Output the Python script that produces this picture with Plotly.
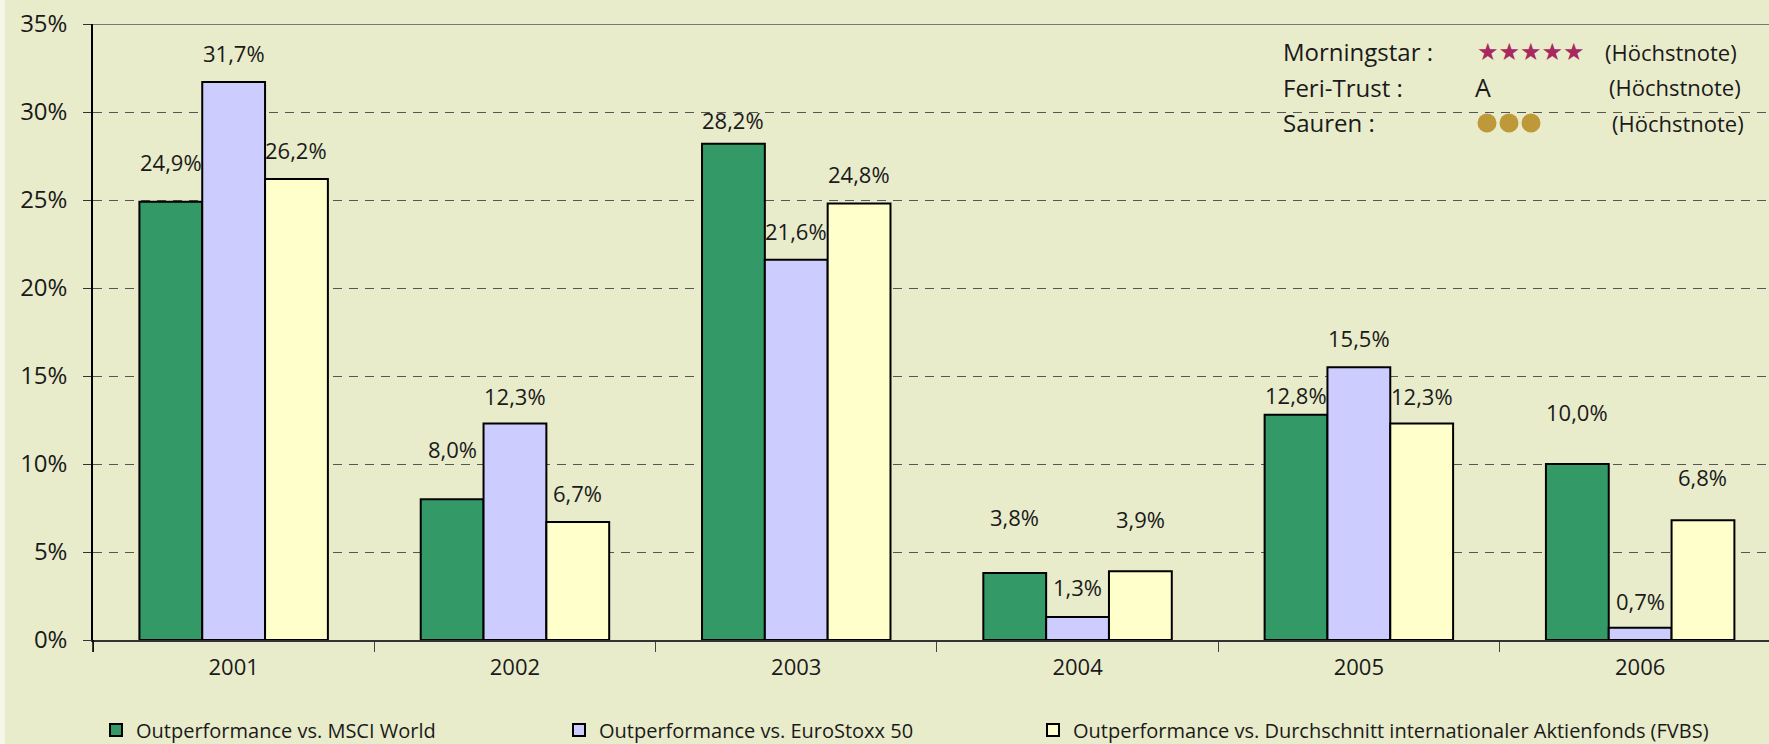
import plotly.graph_objects as go

# ---- data ----
years = ["2001", "2002", "2003", "2004", "2005", "2006"]
msci_world = [24.9, 8.0, 28.2, 3.8, 12.8, 10.0]
eurostoxx50 = [31.7, 12.3, 21.6, 1.3, 15.5, 0.7]
fvbs_avg = [26.2, 6.7, 24.8, 3.9, 12.3, 6.8]
series_names = [
    "Outperformance vs. MSCI World",
    "Outperformance vs. EuroStoxx 50",
    "Outperformance vs. Durchschnitt internationaler Aktienfonds (FVBS)",
]
y_ticks = [0, 5, 10, 15, 20, 25, 30, 35]
rating_agencies = ["Morningstar :", "Feri-Trust :", "Sauren :"]
rating_note = "(Höchstnote)"

# ---- styling ----
W, H = 1769, 744
ML, MR, MT, MB = 93, 0, 24, 104
BG = "#E9ECCB"
colors = ["#339966", "#CCCCFF", "#FFFFCC"]
FONT = "Open Sans, Liberation Sans, sans-serif"
TXT = "#1a1a1a"
XRANGE = [-0.5, 5.458]
BARGAP = 0.33
# label lift above bar top (px), manual nudges as in the original
label_lift = [
    [40, 50, 24, 56, 20, 52],
    [29, 28, 29, 30, 29, 27],
    [29, 29, 30, 52, 28, 43],
]
legend_x_px = [96, 559, 1033]

plot_w = W - ML - MR
plot_h = H - MT - MB
cat_px = plot_w / (XRANGE[1] - XRANGE[0])
bar_px = cat_px * (1 - BARGAP) / 3


def px2paper(xp, yp):
    return (xp - ML) / plot_w, (H - MB - yp) / plot_h


fig = go.Figure()
all_series = [msci_world, eurostoxx50, fvbs_avg]
legend_ids = ["legend", "legend2", "legend3"]
for i, (vals, name) in enumerate(zip(all_series, series_names)):
    fig.add_trace(go.Bar(
        x=years, y=vals, name=name, legend=legend_ids[i],
        marker=dict(color=colors[i], line=dict(color="black", width=2)),
        hoverinfo="x+y",
    ))

annotations = []
for i, vals in enumerate(all_series):
    for j, v in enumerate(vals):
        annotations.append(dict(
            x=j, y=v, xref="x", yref="y",
            text=f"{v:.1f}".replace(".", ",") + "%",
            showarrow=False, xanchor="center", yanchor="middle",
            xshift=(i - 1) * bar_px, yshift=label_lift[i][j],
            font=dict(family=FONT, size=22, color=TXT),
        ))

# rating box
rows_y = [52, 87, 123]
for k, label in enumerate(rating_agencies):
    x, y = px2paper(1281, rows_y[k])
    annotations.append(dict(x=x, y=y, xref="paper", yref="paper", text=label,
                            showarrow=False, xanchor="left", yanchor="middle",
                            font=dict(family=FONT, size=24, color=TXT)))
note_x = [1603, 1607, 1610]
for k in range(3):
    x, y = px2paper(note_x[k], rows_y[k])
    annotations.append(dict(x=x, y=y, xref="paper", yref="paper", text=rating_note,
                            showarrow=False, xanchor="left", yanchor="middle",
                            font=dict(family=FONT, size=22, color=TXT)))
x, y = px2paper(1475, rows_y[0])
annotations.append(dict(x=x, y=y, xref="paper", yref="paper", text="★★★★★",
                        showarrow=False, xanchor="left", yanchor="middle",
                        font=dict(family="DejaVu Sans", size=24, color="#A8295F")))
x, y = px2paper(1473, rows_y[1])
annotations.append(dict(x=x, y=y, xref="paper", yref="paper", text="A",
                        showarrow=False, xanchor="left", yanchor="middle",
                        font=dict(family=FONT, size=25, color=TXT)))

shapes = []
# Sauren circles
for c in range(3):
    cx = 1487 + c * 22
    x0, y0 = px2paper(cx - 9.5, rows_y[2] + 9.5)
    x1, y1 = px2paper(cx + 9.5, rows_y[2] - 9.5)
    shapes.append(dict(type="circle", xref="paper", yref="paper",
                       x0=x0, y0=y0, x1=x1, y1=y1,
                       fillcolor="#BE993A", line=dict(width=0)))
# solid top line at max of y axis
shapes.append(dict(type="line", xref="paper", yref="y", x0=0, x1=1,
                   y0=y_ticks[-1], y1=y_ticks[-1],
                   line=dict(color="#555555", width=1.5), layer="below"))
# y axis line continuing slightly below zero
shapes.append(dict(type="line", xref="paper", yref="paper", x0=0, x1=0,
                   y0=px2paper(0, 652)[1], y1=0,
                   line=dict(color="black", width=1.5)))
# light strip at far left
shapes.append(dict(type="rect", xref="paper", yref="paper",
                   x0=px2paper(0, 0)[0], x1=px2paper(5, 0)[0], y0=-1, y1=2,
                   fillcolor="#F5F6E8", line=dict(width=0), layer="below"))

legend_common = dict(
    orientation="h", xanchor="left",
    y=px2paper(0, 730)[1], yanchor="middle",
    font=dict(family=FONT, size=20, color=TXT),
    bgcolor="rgba(0,0,0,0)",
)

fig.update_layout(
    width=W, height=H,
    margin=dict(l=ML, r=MR, t=MT, b=MB, pad=0, autoexpand=False),
    paper_bgcolor=BG, plot_bgcolor=BG,
    barmode="group", bargap=BARGAP, bargroupgap=0,
    font=dict(family=FONT, color=TXT),
    showlegend=True,
    legend=dict(x=px2paper(legend_x_px[0], 0)[0], **legend_common),
    legend2=dict(x=px2paper(legend_x_px[1], 0)[0], **legend_common),
    legend3=dict(x=px2paper(legend_x_px[2], 0)[0], **legend_common),
    annotations=annotations,
    shapes=shapes,
    xaxis=dict(
        type="category", range=XRANGE,
        tickson="boundaries", ticks="outside", ticklen=10, tickcolor="#444",
        showline=True, linecolor="#333", linewidth=1.5,
        showgrid=False, zeroline=False,
        tickfont=dict(family=FONT, size=22, color=TXT),
        ticklabelstandoff=7,
    ),
    yaxis=dict(
        range=[0, 35], tickvals=y_ticks, ticktext=[f"{t}%" for t in y_ticks],
        ticks="outside", ticklen=8, tickcolor="#333",
        showline=True, linecolor="black", linewidth=1.5,
        showgrid=True, gridcolor="#555555", gridwidth=1, griddash="9px,7px",
        zeroline=False,
        tickfont=dict(family=FONT, size=24, color=TXT),
        ticklabelstandoff=11,
    ),
)

fig.write_html("out.html", config={"displayModeBar": False},
               post_script="document.body.style.margin='0';document.body.style.overflow='hidden';")
